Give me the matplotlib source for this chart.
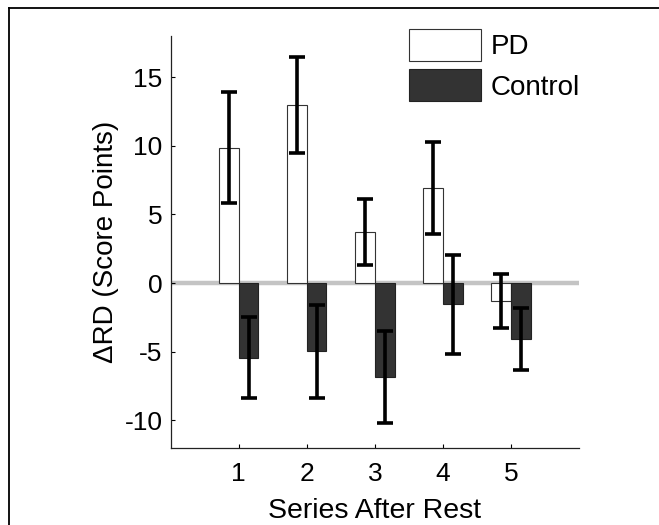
import numpy as np
import matplotlib
matplotlib.use('Agg')
import matplotlib.pyplot as plt
from matplotlib.lines import Line2D

series = [1, 2, 3, 4, 5]
pd_mean = [9.87, 12.94, 3.73, 6.94, -1.31]
pd_err = [4.07, 3.50, 2.43, 3.35, 2.00]
ctrl_mean = [-5.44, -4.98, -6.82, -1.55, -4.06]
ctrl_err = [2.96, 3.39, 3.35, 3.60, 2.27]
yticks = [-10, -5, 0, 5, 10, 15]

plt.rcParams['font.family'] = ['Liberation Sans', 'DejaVu Sans']
plt.rcParams['axes.unicode_minus'] = False

fig = plt.figure(figsize=(6.59, 5.25), dpi=100)
ax = fig.add_axes([0.2589, 0.1472, 0.6197, 0.7842])

x = np.array(series, dtype=float)
w = 0.29

# zero reference line
ax.axhline(0, color='#c4c4c4', lw=3.2, zorder=1)

ax.bar(x - w/2, pd_mean, width=w, color='white', edgecolor='#333333',
       linewidth=0.8, label='PD', zorder=2)
ax.bar(x + w/2, ctrl_mean, width=w, color='#333333', edgecolor='#222222',
       linewidth=0.8, label='Control', zorder=2)
ax.errorbar(x - w/2, pd_mean, yerr=pd_err, fmt='none', ecolor='black',
            elinewidth=2.6, capsize=5.5, capthick=2.6, zorder=3)
ax.errorbar(x + w/2, ctrl_mean, yerr=ctrl_err, fmt='none', ecolor='black',
            elinewidth=2.6, capsize=5.5, capthick=2.6, zorder=3)

ax.set_xlim(0, 6)
ax.set_ylim(-12, 18)
ax.set_xticks(series)
ax.set_yticks(yticks)
ax.tick_params(direction='in', length=3, width=0.8, labelsize=19)
ax.tick_params(axis='x', pad=10)
ax.tick_params(axis='y', pad=5.8)

for s in ['top', 'right']:
    ax.spines[s].set_visible(False)
for s in ['left', 'bottom']:
    ax.spines[s].set_linewidth(0.9)
    ax.spines[s].set_color('#222222')

ax.set_xlabel('Series After Rest', fontsize=20.5, labelpad=9)
ax.set_ylabel('\u0394RD (Score Points)', fontsize=20, labelpad=4)

ax.legend(loc='upper left', bbox_to_anchor=(0.5837, 1.0164), frameon=False,
          fontsize=20, handlelength=2.6, handleheight=1.39, labelspacing=0.30,
          handletextpad=0.35, borderpad=0, borderaxespad=0)

# outer frame (left and top only)
fig.add_artist(Line2D([8.5/659, 8.5/659], [0, 1 - 7.5/525], color='black', lw=1.3))
fig.add_artist(Line2D([8.5/659, 1], [1 - 7.5/525, 1 - 7.5/525], color='black', lw=1.3))

fig.savefig('out.png', dpi=100)
